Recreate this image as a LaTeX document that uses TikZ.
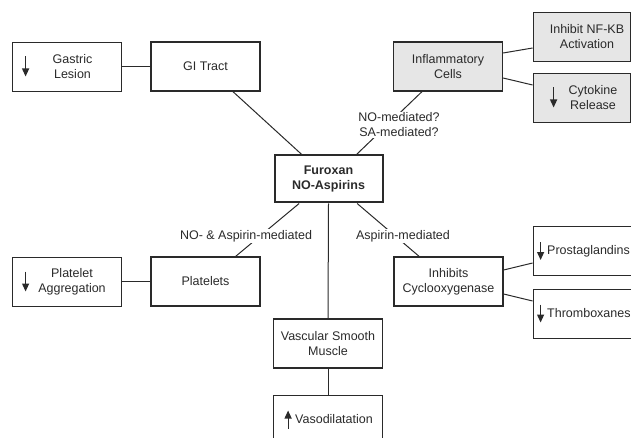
\documentclass[tikz,border=0pt]{standalone}
\usepackage{fontspec}
\setmainfont{Liberation Sans}
\usetikzlibrary{arrows.meta,calc}
\definecolor{ink}{HTML}{2A2A2A}
\definecolor{cellgray}{HTML}{E6E6E6}
\begin{document}
\begin{tikzpicture}[x=1pt,y=-1pt,
  every node/.style={font=\fontsize{12.5}{15}\selectfont, text=ink, align=center},
  box/.style={draw=ink, line width=1.2pt, minimum width=109pt, minimum height=49pt, inner sep=0pt},
  leaf/.style={draw=ink, line width=0.8pt, minimum width=109pt, minimum height=49pt, inner sep=0pt},
  hub/.style={draw=ink, line width=2pt, minimum width=108pt, minimum height=47pt, inner sep=0pt,
    font=\fontsize{12.5}{15}\selectfont\bfseries},
  wire/.style={draw=ink, line width=1pt},
  updn/.style={draw=ink, line width=1.2pt, -{Triangle[length=8pt,width=7pt]}},
  tag/.style={fill=white, inner sep=1pt},
  words/.style={inner sep=0pt}]
\useasboundingbox (0,0) rectangle (631,438);
\clip (0,0) rectangle (631,438);

% boxes
\node[leaf] (gastric) at (66.5,66.5) {};
\node[words] (gastrictxt) at (72.5,66.5) {Gastric\\Lesion};
\node[box] (gi) at (205.5,66.5) {GI Tract};
\node[box, fill=cellgray] (inflam) at (448,66.5) {Inflammatory\\Cells};
\node[leaf, fill=cellgray, minimum width=97pt] (nfkb) at (581.5,37) {};
\node[words] (nfkbtxt) at (587,37) {Inhibit NF-KB\\Activation};
\node[leaf, fill=cellgray, minimum width=97pt] (cyto) at (581.5,97.5) {};
\node[words] (cytotxt) at (593,97.5) {Cytokine\\Release};
\node[hub] (furoxan) at (328.5,179) {Furoxan\\NO-Aspirins};
\node[leaf] (platagg) at (66.5,281.5) {};
\node[words] (plataggtxt) at (72,281.5) {Platelet\\Aggregation};
\node[box] (plt) at (205.5,281.5) {Platelets};
\node[box] (cox) at (448.5,281.5) {Inhibits\\Cyclooxygenase};
\node[leaf, minimum width=107pt] (prosta) at (586.5,251) {};
\node[words, anchor=west] (prostatxt) at (547,251) {Prostaglandins};
\node[leaf, minimum width=107pt] (thrombo) at (586.5,313.5) {};
\node[words, anchor=west] (thrombotxt) at (547,313.5) {Thromboxanes};
\node[box] (vsm) at (328,343.5) {Vascular Smooth\\Muscle};
\node[leaf] (vaso) at (328,419.5) {};
\node[words, anchor=west] (vasotxt) at (295,419.5) {Vasodilatation};

% connectors
\draw[wire] (gastric) -- (gi);
\draw[wire] (gi) -- (furoxan);
\draw[wire] ([xshift=-26pt]inflam.south) -- ([xshift=28pt]furoxan.north);
\draw[wire] ($(inflam.east)+(0,-13.5)$) -- ($(nfkb.west)+(0,11)$);
\draw[wire] ($(inflam.east)+(0,11.5)$) -- ($(cyto.west)+(0,-12.5)$);
\draw[wire] (furoxan) -- (plt);
\draw[wire] (furoxan) -- (cox);
\draw[wire] (plt) -- (platagg);
\draw[wire] ($(cox.east)+(0,-11.5)$) -- ($(prosta.west)+(0,12)$);
\draw[wire] ($(cox.east)+(0,12.5)$) -- ($(thrombo.west)+(0,-12.5)$);
\draw[wire] (furoxan.south) -- (vsm.north);
\draw[wire] (vsm) -- (vaso);

% connector labels
\node[tag] (lblinflam) at (399,125) {NO-mediated?\\SA-mediated?};
\node[tag] (lblplt) at (246,236) {NO- \& Aspirin-mediated};
\node[tag] (lblcox) at (403,236) {Aspirin-mediated};

% arrow glyphs
\draw[updn] ($(gastric.west)+(14,-10)$) -- ($(gastric.west)+(14,10)$);
\draw[updn] ($(platagg.west)+(14,-10)$) -- ($(platagg.west)+(14,10)$);
\draw[updn] ($(cyto.west)+(21,-10)$) -- ($(cyto.west)+(21,10)$);
\draw[updn] ($(prosta.west)+(8,-9)$) -- ($(prosta.west)+(8,9)$);
\draw[updn] ($(thrombo.west)+(8,-9)$) -- ($(thrombo.west)+(8,9)$);
\draw[updn] ($(vaso.west)+(15,9)$) -- ($(vaso.west)+(15,-9)$);
\end{tikzpicture}
\end{document}
